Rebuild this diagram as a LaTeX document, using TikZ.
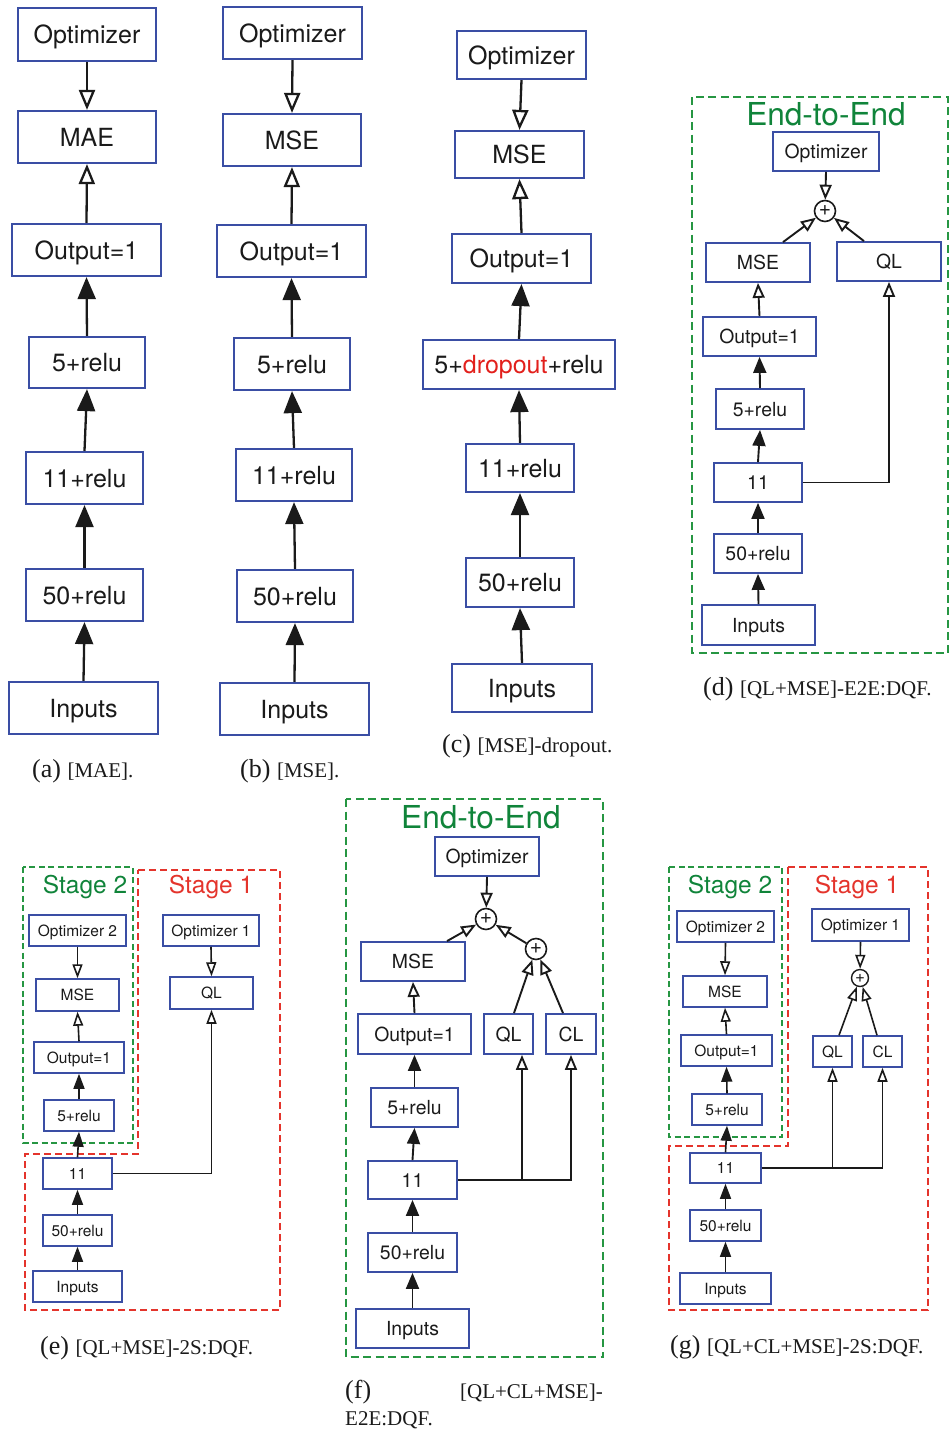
\documentclass[tikz,border=0pt]{standalone}
\usepackage{fontspec}
\newfontfamily\hv{TeX Gyre Heros}
\newfontfamily\tm{Liberation Serif}
\usetikzlibrary{arrows.meta,calc}
\definecolor{boxblue}{RGB}{58,78,164}
\definecolor{ink}{RGB}{26,26,26}
\definecolor{dgreen}{RGB}{38,150,66}
\definecolor{tgreen}{RGB}{16,132,58}
\definecolor{sred}{RGB}{228,52,44}
\definecolor{dropred}{RGB}{226,32,28}
% \blk[style]{name}{x1}{y1}{x2}{y2}{text}: a box given by its corners
\newcommand\blk[7][]{\node[#1,minimum width={#5-#3},minimum height={#6-#4}] (#2) at ({(#3+#5)/2},{(#4+#6)/2}) {#7};}
\begin{document}
\begin{tikzpicture}[x=1pt,y=-1pt,
  blkL/.style={draw=boxblue,line width=2.2pt,inner sep=0pt,text=ink,font=\hv\fontsize{25}{30}\selectfont,text height=18pt,text depth=0pt},
  blkM/.style={draw=boxblue,line width=1.8pt,inner sep=0pt,text=ink,font=\hv\fontsize{19.4}{23}\selectfont,text height=14pt,text depth=0pt},
  blkS/.style={draw=boxblue,line width=1.5pt,inner sep=0pt,text=ink,font=\hv\fontsize{15.5}{19}\selectfont,text height=11.2pt,text depth=0pt},
  fL/.style={draw=ink,line width=2.3pt,-{Triangle[length=22pt,width=18pt]}},
  oL/.style={draw=ink,line width=2.3pt,-{Triangle[open,length=20pt,width=16pt]}},
  fM/.style={draw=ink,line width=1.9pt,-{Triangle[length=16pt,width=13pt]}},
  oM/.style={draw=ink,line width=1.9pt,-{Triangle[open,length=15pt,width=12pt]}},
  fS/.style={draw=ink,line width=1.6pt,-{Triangle[length=15pt,width=11pt]}},
  oS/.style={draw=ink,line width=1.6pt,-{Triangle[open,length=14pt,width=10pt]}},
  sumM/.style={circle,draw=ink,line width=1.6pt,minimum size=21pt,inner sep=0pt,text=ink,font=\hv\fontsize{21}{21}\selectfont},
  sumS/.style={circle,draw=ink,line width=1.4pt,minimum size=17pt,inner sep=0pt,text=ink,font=\hv\fontsize{17}{17}\selectfont},
  gbox/.style={draw=dgreen,line width=1.7pt,dash pattern=on 8pt off 4.5pt},
  rbox/.style={draw=sred,line width=1.5pt,dash pattern=on 7pt off 4pt},
  ttl/.style={text=tgreen,inner sep=0pt,font=\hv\fontsize{31.6}{36}\selectfont,text height=23pt,text depth=0pt},
  stg/.style={inner sep=0pt,font=\hv\fontsize{24.5}{28}\selectfont,text height=18pt,text depth=0pt},
  captext/.style={anchor=base west,inner sep=0pt,text=ink},
]
\useasboundingbox (0,0) rectangle (949,1432);

% ---------------- (a) MAE ----------------
\blk[blkL]{a1}{18}{8}{156}{61}{Optimizer}
\blk[blkL]{a2}{18}{111}{156}{163}{MAE}
\blk[blkL]{a3}{12}{224}{161}{276}{Output=1}
\blk[blkL]{a4}{29}{337}{145}{388}{5+relu}
\blk[blkL]{a5}{26}{452}{143}{504}{11+relu}
\blk[blkL]{a6}{26}{569}{143}{621}{50+relu}
\blk[blkL]{a7}{9}{682}{158}{734}{Inputs}
\draw[oL] (a1.south) -- (a2.north);
\draw[oL] (a3.north) -- (a2.south);
\draw[fL] (a4.north) -- (a3.south);
\draw[fL] (a5.north) -- (a4.south);
\draw[fL] (a6.north) -- (a5.south);
\draw[fL] (a7.north) -- (a6.south);
\node[captext] (capa) at (32,777) {\tm\fontsize{26}{30}\selectfont(a) \fontsize{21}{25}\selectfont[MAE].};

% ---------------- (b) MSE ----------------
\blk[blkL]{b1}{223}{7}{362}{59}{Optimizer}
\blk[blkL]{b2}{223}{114}{361}{166}{MSE}
\blk[blkL]{b3}{217}{225}{366}{277}{Output=1}
\blk[blkL]{b4}{234}{338}{350}{390}{5+relu}
\blk[blkL]{b5}{236}{449}{352}{501}{11+relu}
\blk[blkL]{b6}{237}{570}{353}{622}{50+relu}
\blk[blkL]{b7}{220}{683}{369}{735}{Inputs}
\draw[oL] (b1.south) -- (b2.north);
\draw[oL] (b3.north) -- (b2.south);
\draw[fL] (b4.north) -- (b3.south);
\draw[fL] (b5.north) -- (b4.south);
\draw[fL] (b6.north) -- (b5.south);
\draw[fL] (b7.north) -- (b6.south);
\node[captext] (capb) at (240,777) {\tm\fontsize{26}{30}\selectfont(b) \fontsize{21}{25}\selectfont[MSE].};

% ---------------- (c) MSE with dropout ----------------
\blk[blkL]{c1}{457}{31}{586}{79}{Optimizer}
\blk[blkL]{c2}{455}{131}{584}{178}{MSE}
\blk[blkL]{c3}{452}{234}{591}{283}{Output=1}
\blk[blkL]{c4}{423}{340}{615}{389}{5+\textcolor{dropred}{dropout}+relu}
\blk[blkL]{c5}{466}{444}{574}{492}{11+relu}
\blk[blkL]{c6}{466}{558}{574}{607}{50+relu}
\blk[blkL]{c7}{452}{664}{592}{712}{Inputs}
\draw[oL] (c1.south) -- (c2.north);
\draw[oL] (c3.north) -- (c2.south);
\draw[fL] (c4.north) -- (c3.south);
\draw[fL] (c5.north) -- (c4.south);
\draw[fL] (c6.north) -- (c5.south);
\draw[fL] (c7.north) -- (c6.south);
\node[captext] (capc) at (442,752) {\tm\fontsize{26}{30}\selectfont(c) \fontsize{21}{25}\selectfont[MSE]-dropout.};

% ---------------- (d) QL+MSE end-to-end ----------------
\draw[gbox] (692,97) rectangle (948,653);
\node[ttl] (dttl) at (826,114) {End-to-End};
\blk[blkM]{dopt}{773}{132}{879}{171}{Optimizer}
\node[sumM] (dsum) at (825,211) {+};
\blk[blkM]{dmse}{706}{243}{810}{282}{MSE}
\blk[blkM]{dql}{837}{242}{941}{281}{QL}
\blk[blkM]{dout}{703}{317}{816}{356}{Output=1}
\blk[blkM]{d5}{716}{389}{804}{429}{5+relu}
\blk[blkM]{d11}{714}{463}{802}{502}{11}
\blk[blkM]{d50}{714}{534}{802}{573}{50+relu}
\blk[blkM]{din}{702}{605}{815}{645}{Inputs}
\draw[oM] (dopt.south) -- (dsum);
\draw[oM] ($(dmse.north)+(25,0)$) -- (dsum);
\draw[oM] ($(dql.north)+(-25,0)$) -- (dsum);
\draw[oM] (dout.north) -- (dmse.south);
\draw[fM] (d5.north) -- (dout.south);
\draw[fM] (d11.north) -- (d5.south);
\draw[fM] (d50.north) -- (d11.south);
\draw[fM] (din.north) -- (d50.south);
\draw[oM] (d11.east) -| (dql.south);
\node[captext] (capd) at (703,695) {\tm\fontsize{26}{30}\selectfont(d) \fontsize{21}{25}\selectfont[QL+MSE]-E2E:DQF.};

% ---------------- (e) QL+MSE two-stage ----------------
\draw[gbox,line width=1.4pt,dash pattern=on 6pt off 3.5pt] (23,867) rectangle (133,1143);
\draw[rbox] (138,870) -- (280,870) -- (280,1310) -- (25,1310) -- (25,1154) -- (138,1154) -- cycle;
\node[stg,text=tgreen] (est2) at (85,884) {Stage 2};
\node[stg,text=sred] (est1) at (211,884) {Stage 1};
\blk[blkS]{eopt2}{29}{915}{126}{946}{Optimizer 2}
\blk[blkS]{emse}{36}{979}{119}{1011}{MSE}
\blk[blkS]{eout}{34}{1042}{124}{1073}{Output=1}
\blk[blkS]{e5}{44}{1100}{114}{1131}{5+relu}
\blk[blkS]{e11}{43}{1158}{112}{1189}{11}
\blk[blkS]{e50}{43}{1215}{112}{1246}{50+relu}
\blk[blkS]{ein}{33}{1271}{122}{1302}{Inputs}
\blk[blkS]{eopt1}{163}{915}{259}{946}{Optimizer 1}
\blk[blkS]{eql}{170}{977}{253}{1009}{QL}
\draw[oS] (eopt2.south) -- (emse.north);
\draw[oS] (eout.north) -- (emse.south);
\draw[fS] (e5.north) -- (eout.south);
\draw[fS] (e11.north) -- (e5.south);
\draw[fS] (e50.north) -- (e11.south);
\draw[fS] (ein.north) -- (e50.south);
\draw[oS] (eopt1.south) -- (eql.north);
\draw[oS] (e11.east) -| (eql.south);
\node[captext] (cape) at (40,1354) {\tm\fontsize{26}{30}\selectfont(e) \fontsize{21}{25}\selectfont[QL+MSE]-2S:DQF.};

% ---------------- (f) QL+CL+MSE end-to-end ----------------
\draw[gbox] (346,799) rectangle (603,1357);
\node[ttl] (fttl) at (481,817) {End-to-End};
\blk[blkM]{fopt}{435}{837}{539}{876}{Optimizer}
\node[sumM] (fs1) at (486,919) {+};
\node[sumM] (fs2) at (536,949) {+};
\blk[blkM]{fmse}{361}{942}{465}{981}{MSE}
\blk[blkM]{fout}{358}{1014}{471}{1054}{Output=1}
\blk[blkM]{fql}{484}{1014}{533}{1054}{QL}
\blk[blkM]{fcl}{546}{1014}{596}{1054}{CL}
\blk[blkM]{f5}{371}{1088}{458}{1127}{5+relu}
\blk[blkM]{f11}{368}{1161}{457}{1199}{11}
\blk[blkM]{f50}{368}{1233}{457}{1272}{50+relu}
\blk[blkM]{fin}{356}{1309}{469}{1348}{Inputs}
\coordinate (fqlin) at ($(fql.south)+(13.5,0)$);
\draw[oM] (fopt.south) -- (fs1);
\draw[oM] ($(fmse.north)+(34,0)$) -- (fs1);
\draw[oM] (fs2) -- (fs1);
\draw[oM] ($(fql.north)+(5.5,0)$) -- (fs2);
\draw[oM] ($(fcl.north)+(-8,0)$) -- (fs2);
\draw[oM] (fout.north) -- (fmse.south);
\draw[fM] (f5.north) -- (fout.south);
\draw[fM] (f11.north) -- (f5.south);
\draw[fM] (f50.north) -- (f11.south);
\draw[fM] (fin.north) -- (f50.south);
\draw[oM] (f11.east) -| (fcl.south);
\draw[oM] (f11.east -| fqlin) -- (fqlin);
\node[captext] (capf1) at (345,1398) {\tm\fontsize{26}{30}\selectfont(f)};
\node[captext,anchor=base east] (capf2) at (603,1398) {\tm\fontsize{21}{25}\selectfont[QL+CL+MSE]-};
\node[captext] (capf3) at (345,1425) {\tm\fontsize{21}{25}\selectfont E2E:DQF.};

% ---------------- (g) QL+CL+MSE two-stage ----------------
\draw[gbox,line width=1.4pt,dash pattern=on 6pt off 3.5pt] (669,867) rectangle (782,1137);
\draw[rbox] (788,867) -- (928,867) -- (928,1310) -- (669,1310) -- (669,1146) -- (788,1146) -- cycle;
\node[stg,text=tgreen] (gst2) at (730,884) {Stage 2};
\node[stg,text=sred] (gst1) at (857,884) {Stage 1};
\blk[blkS]{gopt2}{677}{911}{774}{942}{Optimizer 2}
\blk[blkS]{gmse}{683}{976}{767}{1007}{MSE}
\blk[blkS]{gout}{681}{1035}{772}{1066}{Output=1}
\blk[blkS]{g5}{692}{1094}{762}{1125}{5+relu}
\blk[blkS]{g11}{690}{1153}{761}{1183}{11}
\blk[blkS]{g50}{690}{1210}{761}{1241}{50+relu}
\blk[blkS]{gin}{680}{1273}{771}{1304}{Inputs}
\blk[blkS]{gopt1}{812}{909}{909}{941}{Optimizer 1}
\node[sumS] (gsum) at (860,978) {+};
\blk[blkS]{gql}{813}{1036}{852}{1067}{QL}
\blk[blkS]{gcl}{863}{1036}{902}{1067}{CL}
\draw[oS] (gopt2.south) -- (gmse.north);
\draw[oS] (gout.north) -- (gmse.south);
\draw[fS] (g5.north) -- (gout.south);
\draw[fS] (g11.north) -- (g5.south);
\draw[fS] (g50.north) -- (g11.south);
\draw[fS] (gin.north) -- (g50.south);
\draw[oS] (gopt1.south) -- (gsum);
\draw[oS] ($(gql.north)+(6.5,0)$) -- (gsum);
\draw[oS] ($(gcl.north)+(-5.5,0)$) -- (gsum);
\draw[oS] (g11.east) -| (gcl.south);
\draw[oS] (g11.east -| gql.south) -- (gql.south);
\node[captext] (capg) at (670,1353) {\tm\fontsize{26}{30}\selectfont(g) \fontsize{21}{25}\selectfont[QL+CL+MSE]-2S:DQF.};
\end{tikzpicture}
\end{document}
